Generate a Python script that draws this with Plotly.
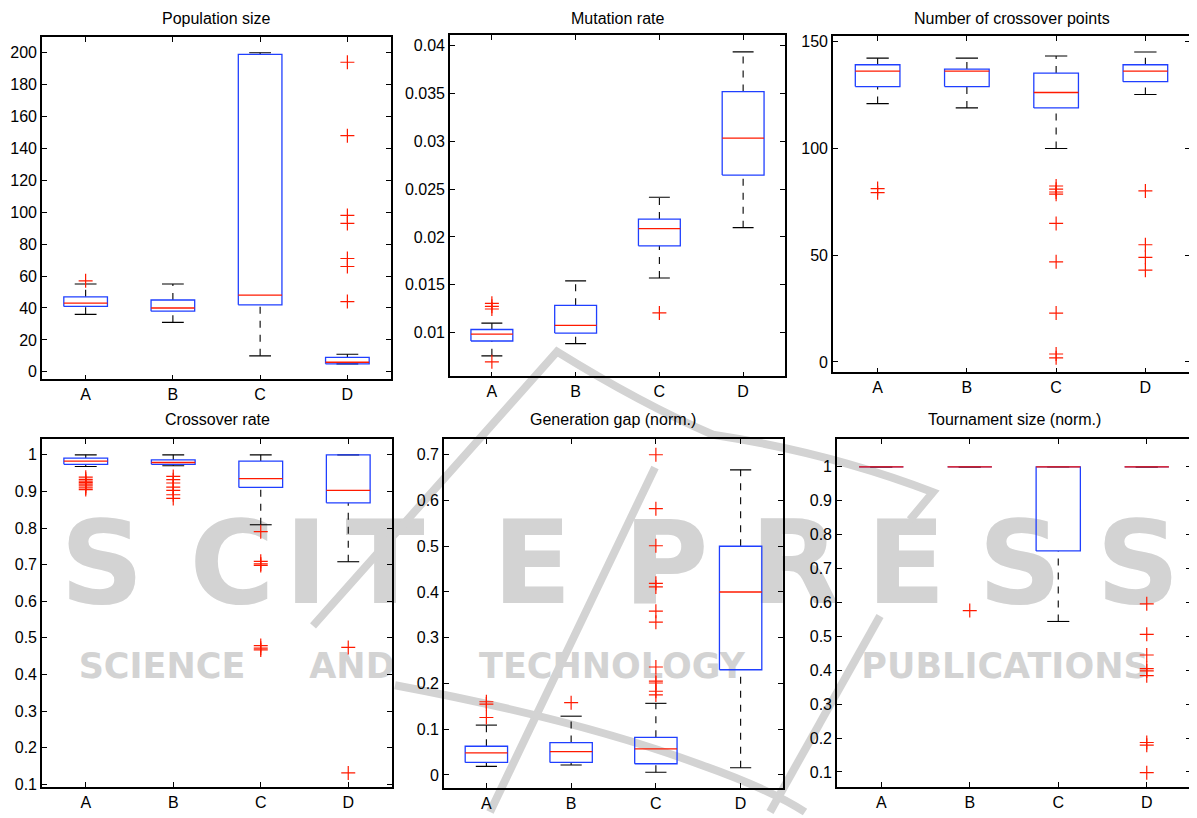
import plotly.graph_objects as go

W, H = 1197, 818
OFF = 8              # default page margin of the html body
FW, FH = W - OFF, H - OFF
CATS = ["A", "B", "C", "D"]

# ---------------- data ----------------
titles = ["Population size", "Mutation rate", "Number of crossover points",
          "Crossover rate", "Generation gap (norm.)", "Tournament size (norm.)"]

# Population size
pop_q1 = [41, 38, 42, 5]
pop_med = [43, 40, 48, 6]
pop_q3 = [47, 45, 199, 9]
pop_lo = [36, 31, 10, 5]
pop_hi = [55, 55, 200, 11]
pop_out = [[57], [], [], [194, 148, 98, 93, 71, 66, 44]]

# Mutation rate
mut_q1 = [0.00914, 0.00997, 0.01907, 0.02645]
mut_med = [0.00986, 0.01076, 0.02086, 0.03031]
mut_q3 = [0.01034, 0.01286, 0.02186, 0.03517]
mut_lo = [0.00759, 0.00886, 0.01572, 0.02097]
mut_hi = [0.0110, 0.01541, 0.02414, 0.03931]
mut_out = [[0.01307, 0.01276, 0.01248, 0.00697], [], [0.01207], []]

# Number of crossover points
cxp_q1 = [129, 129, 119, 131.3]
cxp_med = [136.2, 136.2, 126.2, 136.2]
cxp_q3 = [139.2, 137.2, 135.3, 139.2]
cxp_lo = [121, 119, 100, 125.3]
cxp_hi = [142.3, 142.3, 143.3, 145.2]
cxp_out = [[81.2, 79.3], [], [82.4, 80.9, 79.6, 78.6, 64.9, 46.9, 22.9, 3.7, 1.9],
           [80.1, 54.9, 49.0, 43.0]]

# Crossover rate
cxr_q1 = [0.974, 0.974, 0.911, 0.869]
cxr_med = [0.983, 0.979, 0.935, 0.903]
cxr_q3 = [0.991, 0.986, 0.983, 1.0]
cxr_lo = [0.968, 0.970, 0.809, 0.708]
cxr_hi = [1.0, 1.0, 1.0, 1.0]
cxr_out = [[0.939, 0.933, 0.928, 0.924, 0.92, 0.915, 0.91, 0.905],
           [0.941, 0.932, 0.923, 0.912, 0.903, 0.891, 0.881],
           [0.790, 0.709, 0.702, 0.698, 0.479, 0.472, 0.467],
           [0.474, 0.131]]

# Generation gap (norm.)
gg_q1 = [0.0274, 0.0274, 0.0245, 0.230]
gg_med = [0.0484, 0.0512, 0.057, 0.400]
gg_q3 = [0.0628, 0.0707, 0.0823, 0.500]
gg_lo = [0.0188, 0.0217, 0.0058, 0.0159]
gg_hi = [0.109, 0.1285, 0.1566, 0.667]
gg_out = [[0.160, 0.155, 0.1256], [0.158],
          [0.700, 0.582, 0.501, 0.419, 0.411, 0.358, 0.334, 0.236, 0.205, 0.201, 0.183, 0.175],
          []]

# Tournament size (norm.)
ts_q1 = [1.0, 1.0, 0.752, 1.0]
ts_med = [1.0, 1.0, 1.0, 1.0]
ts_q3 = [1.0, 1.0, 1.0, 1.0]
ts_lo = [1.0, 1.0, 0.544, 1.0]
ts_hi = [1.0, 1.0, 1.0, 1.0]
ts_out = [[], [0.576], [], [0.596, 0.506, 0.445, 0.405, 0.398, 0.384, 0.187, 0.179, 0.098]]

# tick labels
pop_ticks = [0, 20, 40, 60, 80, 100, 120, 140, 160, 180, 200]
pop_ticktext = ["0", "20", "40", "60", "80", "100", "120", "140", "160", "180", "200"]
mut_ticks = [0.01, 0.015, 0.02, 0.025, 0.03, 0.035, 0.04]
mut_ticktext = ["0.01", "0.015", "0.02", "0.025", "0.03", "0.035", "0.04"]
cxp_ticks = [0, 50, 100, 150]
cxp_ticktext = ["0", "50", "100", "150"]
cxr_ticks = [0.1, 0.2, 0.3, 0.4, 0.5, 0.6, 0.7, 0.8, 0.9, 1.0]
cxr_ticktext = ["0.1", "0.2", "0.3", "0.4", "0.5", "0.6", "0.7", "0.8", "0.9", "1"]
gg_ticks = [0, 0.1, 0.2, 0.3, 0.4, 0.5, 0.6, 0.7]
gg_ticktext = ["0", "0.1", "0.2", "0.3", "0.4", "0.5", "0.6", "0.7"]
ts_ticks = [0.1, 0.2, 0.3, 0.4, 0.5, 0.6, 0.7, 0.8, 0.9, 1.0]
ts_ticktext = ["0.1", "0.2", "0.3", "0.4", "0.5", "0.6", "0.7", "0.8", "0.9", "1"]

# ---------------- layout geometry (screen pixels) ----------------
panels = [
    dict(stats=(pop_q1, pop_med, pop_q3, pop_lo, pop_hi, pop_out), box=(42, 391, 35, 381),
         yr=(-4.7, 210), ticks=(pop_ticks, pop_ticktext)),
    dict(stats=(mut_q1, mut_med, mut_q3, mut_lo, mut_hi, mut_out), box=(450, 785, 33, 378),
         yr=(0.00545, 0.0411), ticks=(mut_ticks, mut_ticktext)),
    dict(stats=(cxp_q1, cxp_med, cxp_q3, cxp_lo, cxp_hi, cxp_out), box=(833, 1190, 34, 374),
         yr=(-4.9, 152.8), ticks=(cxp_ticks, cxp_ticktext)),
    dict(stats=(cxr_q1, cxr_med, cxr_q3, cxr_lo, cxr_hi, cxr_out), box=(42, 392, 441, 793),
         yr=(0.092, 1.044), ticks=(cxr_ticks, cxr_ticktext)),
    dict(stats=(gg_q1, gg_med, gg_q3, gg_lo, gg_hi, gg_out), box=(444, 783, 441, 794),
         yr=(-0.029, 0.735), ticks=(gg_ticks, gg_ticktext)),
    dict(stats=(ts_q1, ts_med, ts_q3, ts_lo, ts_hi, ts_out), box=(837, 1191, 441, 793),
         yr=(0.055, 1.083), ticks=(ts_ticks, ts_ticktext)),
]


def fx(x):
    return (x - OFF) / FW


def fy(y):
    return 1 - (y - OFF) / FH


BLUE = "#1f3fff"
RED = "#ff1a00"
FONT = "Liberation Sans, Arial, Helvetica, sans-serif"

fig = go.Figure()
layout = dict(width=FW, height=FH, margin=dict(l=0, r=0, t=0, b=0),
              paper_bgcolor="white", plot_bgcolor="rgba(0,0,0,0)",
              showlegend=False, font=dict(family=FONT, size=16, color="black"))

annotations = []
for k, p in enumerate(panels):
    q1, med, q3, lo, hi, outs = p["stats"]
    x0, x1, y0, y1 = p["box"]
    xa = "x" if k == 0 else f"x{k+1}"
    ya = "y" if k == 0 else f"y{k+1}"
    xkey = "xaxis" if k == 0 else f"xaxis{k+1}"
    ykey = "yaxis" if k == 0 else f"yaxis{k+1}"
    pos = list(range(1, len(CATS) + 1))

    wx, wy, cx, cy, bx, by, mx, my, ox, oy = [], [], [], [], [], [], [], [], [], []
    for i, c in enumerate(pos):
        wx += [c, c, None, c, c, None]
        wy += [q3[i], hi[i], None, lo[i], q1[i], None]
        cx += [c - 0.125, c + 0.125, None, c - 0.125, c + 0.125, None]
        cy += [hi[i], hi[i], None, lo[i], lo[i], None]
        bx += [c - 0.25, c + 0.25, c + 0.25, c - 0.25, c - 0.25, None]
        by += [q1[i], q1[i], q3[i], q3[i], q1[i], None]
        mx += [c - 0.25, c + 0.25, None]
        my += [med[i], med[i], None]
        for v in outs[i]:
            ox.append(c)
            oy.append(v)

    common = dict(xaxis=xa, yaxis=ya, hoverinfo="skip", showlegend=False)
    fig.add_trace(go.Scatter(x=wx, y=wy, mode="lines",
                             line=dict(color="black", width=1.1, dash="7px,7px"), **common))
    fig.add_trace(go.Scatter(x=cx, y=cy, mode="lines",
                             line=dict(color="black", width=1.1), **common))
    fig.add_trace(go.Scatter(x=bx, y=by, mode="lines",
                             line=dict(color=BLUE, width=1.3), **common))
    fig.add_trace(go.Scatter(x=mx, y=my, mode="lines",
                             line=dict(color=RED, width=1.3), **common))
    fig.add_trace(go.Scatter(x=ox, y=oy, mode="markers",
                             marker=dict(symbol="cross-thin", size=10,
                                         line=dict(color=RED, width=1.2)), **common))

    axis_common = dict(showline=True, linecolor="black", linewidth=1.6, mirror="ticks",
                       ticks="inside", ticklen=5, tickcolor="black", tickwidth=1,
                       showgrid=False, zeroline=False, fixedrange=True,
                       tickfont=dict(family=FONT, size=16, color="black"))
    layout[xkey] = dict(domain=[fx(x0), fx(x1)], anchor=ya, range=[0.5, 4.5],
                        tickvals=pos, ticktext=CATS, **axis_common)
    layout[ykey] = dict(domain=[fy(y1), fy(y0)], anchor=xa, range=list(p["yr"]),
                        tickvals=p["ticks"][0], ticktext=p["ticks"][1], **axis_common)

    ty = 16.5 if k < 3 else 422
    annotations.append(dict(text=titles[k], xref="paper", yref="paper",
                            x=fx((x0 + x1) / 2), y=fy(ty), showarrow=False,
                            xanchor="center", yanchor="middle",
                            font=dict(family=FONT, size=16, color="black")))

# ---------------- background watermark ----------------
WM = "#d3d3d3"
shapes = []

wm_letters = ["S", "C", "I", "T", "E", "P", "R", "E", "S", "S"]
wm_centers = [102, 232, 306, 385, 532, 666, 795, 906, 1020, 1138]
for ch, xc in zip(wm_letters, wm_centers):
    shapes.append(dict(type="rect", xref="paper", yref="paper",
                       x0=fx(xc - 60), x1=fx(xc + 60), y0=fy(612), y1=fy(504),
                       line=dict(width=0), fillcolor="rgba(0,0,0,0)", layer="below",
                       label=dict(text=ch, textposition="middle center",
                                  font=dict(family="DejaVu Sans", size=116, color=WM,
                                            weight="bold"))))

wm_words = ["SCIENCE", "AND", "TECHNOLOGY", "PUBLICATIONS"]
wm_word_centers = [162, 352, 612, 1005]
wm_word_half = [118, 56, 185, 195]
for wd, xc, hw in zip(wm_words, wm_word_centers, wm_word_half):
    shapes.append(dict(type="rect", xref="paper", yref="paper",
                       x0=fx(xc - hw), x1=fx(xc + hw), y0=fy(686), y1=fy(650),
                       line=dict(width=0), fillcolor="rgba(0,0,0,0)", layer="below",
                       label=dict(text=wd, textposition="middle center",
                                  font=dict(family="DejaVu Sans", size=35, color=WM,
                                            weight="bold"))))


def pathpx(cmds):
    out = []
    for c in cmds:
        if isinstance(c, str):
            out.append(c)
        else:
            out.append(f"{fx(c[0]):.5f},{fy(c[1]):.5f}")
    return " ".join(out)


swooshes = [
    ["M", (313, 630), "L", (557, 353), "Q", (640, 405), (713, 437),
     "Q", (830, 455), (933, 495), "L", (910, 523)],
    ["M", (655, 470), "L", (490, 818)],
    ["M", (880, 620), "L", (770, 818)],
    ["M", (395, 690), "Q", (580, 725), (700, 770), "Q", (770, 795), (805, 818)],
]
for s in swooshes:
    shapes.append(dict(type="path", xref="paper", yref="paper", path=pathpx(s),
                       line=dict(color=WM, width=8), layer="below"))

layout["annotations"] = annotations
layout["shapes"] = shapes
fig.update_layout(**layout)
fig.write_html("out.html")
